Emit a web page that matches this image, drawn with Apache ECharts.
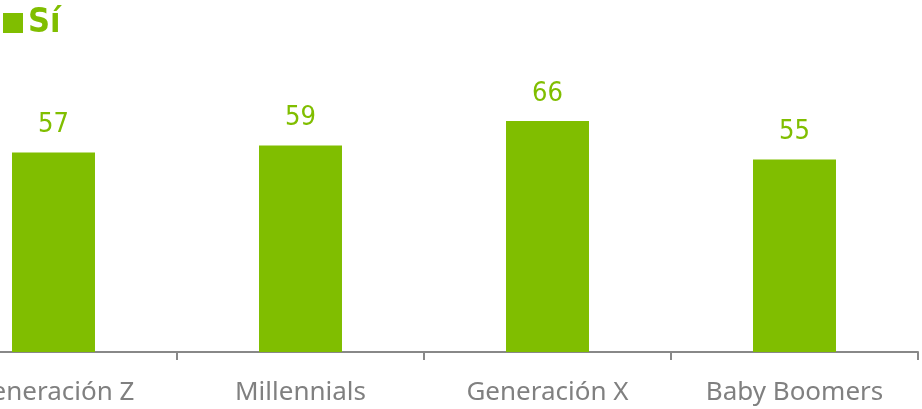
<!DOCTYPE html>
<html><head><meta charset="utf-8">
<script src="https://cdn.jsdelivr.net/npm/echarts@6/dist/echarts.min.js"></script>
<style>html,body{margin:0;padding:0;background:#fff;overflow:hidden;width:922px;height:409px}#c{width:992px;height:409px;margin-left:-70px}</style>
</head><body><div id="c"></div>
<script>
const categories = ["Generación Z", "Millennials", "Generación X", "Baby Boomers"];
const seriesName = "Sí";
const values = [57, 59, 66, 55];
const green = "#80BE00";
const chart = echarts.init(document.getElementById('c'), null, {renderer: 'canvas'});
chart.setOption({
  animation: false,
  textStyle: {fontFamily: "Noto Sans"},
  legend: {
    left: 73, top: 6, padding: 0, itemWidth: 20, itemHeight: 20, itemGap: 10,
    icon: 'rect',
    textStyle: {color: green, fontSize: 34, fontWeight: 'bold', fontFamily: "'DejaVu Sans Condensed', 'Noto Sans'"},
    data: [seriesName]
  },
  grid: {left: 0, right: 4, top: 72, bottom: 57, containLabel: false},
  xAxis: {
    type: 'category', data: categories,
    axisLine: {lineStyle: {color: '#888', width: 2}},
    axisTick: {show: true, length: 8, lineStyle: {color: '#888', width: 2}},
    axisLabel: {color: '#808080', fontSize: 26, margin: 28, fontFamily: "Noto Sans"}
  },
  yAxis: {type: 'value', min: 0, max: 80, show: false, splitLine: {show: false}},
  series: [{
    name: seriesName, type: 'bar', data: values, barWidth: '33.6%',
    itemStyle: {color: green},
    label: {show: true, position: 'top', distance: 14, color: green, fontSize: 27, fontFamily: "'DejaVu Sans Condensed', 'Noto Sans'"}
  }]
});
</script></body></html>
